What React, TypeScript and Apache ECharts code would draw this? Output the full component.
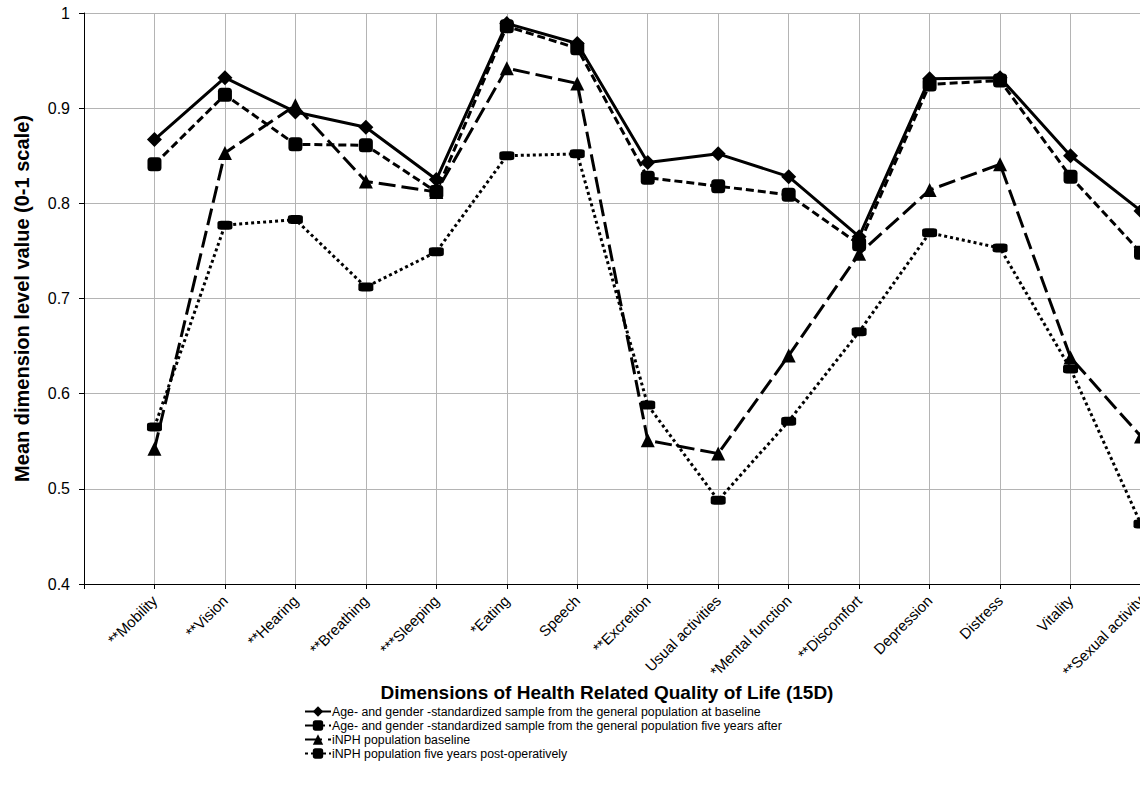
import React, { useEffect, useRef } from 'react';
import * as echarts from 'echarts';

const categories = [
  '**Mobility', '**Vision', '**Hearing', '**Breathing', '***Sleeping', '*Eating', 'Speech',
  '**Excretion', 'Usual activities', '*Mental function', '**Discomfort', 'Depression',
  'Distress', 'Vitality', '**Sexual activity',
];
const seriesNames = [
  'Age- and gender -standardized sample from the general population at baseline',
  'Age- and gender -standardized sample from the general population five years after',
  'iNPH population baseline',
  'iNPH population five years post-operatively',
];
const genBaseline = [0.867, 0.932, 0.896, 0.880, 0.825, 0.989, 0.968, 0.843, 0.852, 0.828, 0.765, 0.931, 0.932, 0.850, 0.792];
const genFiveYears = [0.841, 0.914, 0.862, 0.861, 0.812, 0.986, 0.963, 0.827, 0.818, 0.809, 0.757, 0.925, 0.929, 0.828, 0.748];
const inphBaseline = [0.542, 0.853, 0.903, 0.823, 0.812, 0.942, 0.926, 0.551, 0.537, 0.640, 0.747, 0.814, 0.841, 0.638, 0.555];
const inphFiveYears = [0.565, 0.777, 0.783, 0.712, 0.749, 0.850, 0.852, 0.588, 0.488, 0.571, 0.665, 0.769, 0.753, 0.626, 0.463];
const yMin = 0.4;
const yMax = 1;
const yStep = 0.1;

const FONT = 'Liberation Sans, Arial, sans-serif';

const toPoints = (vals: number[]) => vals.map((v, i) => [i + 1, v]);

export default function App() {
  const ref = useRef<HTMLDivElement>(null);
  useEffect(() => {
    if (!ref.current) return;
    const chart = echarts.init(ref.current, undefined, { renderer: 'svg', width: 1140, height: 785 });
    const base = {
      type: 'line',
      color: '#000',
      showSymbol: true,
    };
    chart.setOption({
      animation: false,
      backgroundColor: '#fff',
      textStyle: { fontFamily: FONT, color: '#000' },
      grid: {
        left: 84,
        top: 13,
        width: 1057,
        height: 571,
        containLabel: false,
        outerBoundsMode: 'none',
      },
      title: {
        text: 'Dimensions of Health Related Quality of Life (15D)',
        left: 602,
        top: 678,
        textAlign: 'center',
        textStyle: { fontFamily: FONT, fontSize: 19, fontWeight: 'bold', color: '#000' },
      },
      legend: {
        orient: 'vertical',
        left: 304,
        top: 705,
        itemGap: 1,
        itemWidth: 26,
        itemHeight: 13,
        padding: 0,
        textStyle: { fontFamily: FONT, fontSize: 12.3, lineHeight: 13, color: '#000', padding: [0, 0, 0, -4] },
        data: seriesNames,
      },
      xAxis: {
        type: 'value',
        min: 0,
        max: categories.length,
        interval: 1,
        axisLine: { show: true, lineStyle: { color: '#000', width: 1 } },
        axisTick: { show: true, length: 5, lineStyle: { color: '#000' } },
        splitLine: { show: true, lineStyle: { color: '#b4b4b4', width: 1 } },
        axisLabel: {
          rotate: 45,
          fontSize: 15,
          color: '#000',
          fontFamily: FONT,
          margin: 14,
          showMaxLabel: true,
          showMinLabel: true,
          hideOverlap: false,
          formatter: (v: number) => categories[Math.round(v) - 1] || '',
        },
      },
      yAxis: {
        type: 'value',
        min: yMin,
        max: yMax,
        interval: yStep,
        name: 'Mean dimension level value (0-1 scale)',
        nameLocation: 'middle',
        nameGap: 52,
        nameTextStyle: { fontFamily: FONT, fontSize: 20, fontWeight: 'bold', color: '#000' },
        axisLine: { show: true, lineStyle: { color: '#000', width: 1 } },
        axisTick: { show: true, length: 5, lineStyle: { color: '#000' } },
        splitLine: { show: true, lineStyle: { color: '#b4b4b4', width: 1 } },
        axisLabel: {
          fontSize: 16,
          color: '#000',
          fontFamily: FONT,
          margin: 14,
          formatter: (v: number) => String(Math.round(v * 10) / 10),
        },
      },
      series: [
        {
          ...base,
          name: seriesNames[0],
          data: toPoints(genBaseline),
          symbol: 'diamond',
          symbolSize: 15,
          lineStyle: { color: '#000', width: 3, type: 'solid' },
          itemStyle: { color: '#000' },
          z: 4,
        },
        {
          ...base,
          name: seriesNames[1],
          data: toPoints(genFiveYears),
          symbol: 'roundRect',
          symbolSize: 14,
          lineStyle: { color: '#000', width: 3, type: [8, 4] },
          itemStyle: { color: '#000' },
          z: 3,
        },
        {
          ...base,
          name: seriesNames[2],
          data: toPoints(inphBaseline),
          symbol: 'triangle',
          symbolSize: 14,
          lineStyle: { color: '#000', width: 3, type: [17, 6] },
          itemStyle: { color: '#000' },
          z: 2,
        },
        {
          ...base,
          name: seriesNames[3],
          data: toPoints(inphFiveYears),
          symbol: 'roundRect',
          symbolSize: [15, 9],
          lineStyle: { color: '#000', width: 3, type: [3, 3] },
          itemStyle: { color: '#000' },
          z: 1,
        },
      ],
    });
    return () => chart.dispose();
  }, []);
  return (
    <div
      ref={ref}
      style={{ position: 'fixed', left: 0, top: 0, width: 1140, height: 785, background: '#fff' }}
    />
  );
}
